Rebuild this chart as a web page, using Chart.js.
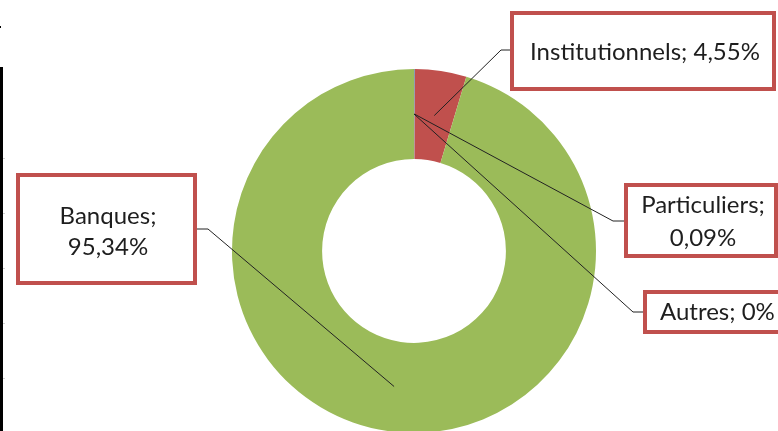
<!DOCTYPE html>
<html>
<head>
<meta charset="utf-8">
<script src="https://cdn.jsdelivr.net/npm/chart.js@4.4.0/dist/chart.umd.min.js"></script>
<style>
  body { margin: 0; background: #fff; }
  #frame { width: 778px; height: 431px; overflow: hidden; position: relative; }
  #box { width: 778px; height: 440px; }
</style>
</head>
<body>
<div id="frame"><div id="box"><canvas id="chart"></canvas></div></div>
<script>
const categories = ['Particuliers', 'Institutionnels', 'Banques', 'Autres'];
const shares = [0.09, 4.55, 95.34, 0];
const sliceColors = ['#8A9DB5', '#C0504D', '#9BBB59', '#8064A2'];

// callout boxes [x, y, w, h], elbow of the leader line, text placement
const callouts = [
  { box: [624, 183, 154, 75], elbow: [613, 221], edge: 624, align: 'center', tx: 703, ty: [213, 246] },
  { box: [510, 11, 266, 80], elbow: [501, 50], edge: 510, align: 'center', tx: 645, ty: [60] },
  { box: [16, 173, 181, 112], elbow: [208, 229], edge: 197, align: 'center', tx: 108, ty: [224, 255] },
  { box: [643, 290, 160, 44], elbow: [633, 312], edge: 643, align: 'left', tx: 660, ty: [320] }
];

function fmt(v) {
  return String(v).replace('.', ',') + '%';
}

const calloutPlugin = {
  id: 'callouts',
  afterDatasetsDraw(chart) {
    const ctx = chart.ctx;
    const arcs = chart.getDatasetMeta(0).data;
    ctx.save();

    // bit of the neighbouring chart's axis left in the screenshot
    ctx.fillStyle = '#000';
    ctx.fillRect(0, 67, 3, 370);
    ctx.fillRect(0, 26, 1, 2);
    ctx.fillStyle = '#d0d0d0';
    [158, 213, 268, 323, 378].forEach(y => ctx.fillRect(3, y, 2, 1));

    ctx.strokeStyle = '#222';
    ctx.lineWidth = 1;
    arcs.forEach((arc, i) => {
      const c = callouts[i];
      const p = arc.getCenterPoint();
      ctx.beginPath();
      ctx.moveTo(p.x, p.y);
      ctx.lineTo(c.elbow[0], c.elbow[1]);
      ctx.lineTo(c.edge, c.elbow[1]);
      ctx.stroke();
    });

    ctx.font = '24px Lato';
    ctx.textBaseline = 'alphabetic';
    arcs.forEach((arc, i) => {
      const c = callouts[i];
      const [x, y, w, h] = c.box;
      ctx.fillStyle = '#fff';
      ctx.fillRect(x, y, w, h);
      ctx.strokeStyle = '#C0504D';
      ctx.lineWidth = 4;
      ctx.strokeRect(x + 2, y + 2, w - 4, h - 4);

      const lines = c.ty.length > 1
        ? [categories[i] + ';', fmt(shares[i])]
        : [categories[i] + '; ' + fmt(shares[i])];
      ctx.fillStyle = '#1e1e1e';
      ctx.textAlign = c.align;
      lines.forEach((t, k) => ctx.fillText(t, c.tx, c.ty[k]));
    });
    ctx.restore();
  }
};

new Chart(document.getElementById('chart'), {
  type: 'doughnut',
  data: {
    labels: categories,
    datasets: [{
      data: shares,
      backgroundColor: sliceColors,
      borderWidth: 0
    }]
  },
  options: {
    responsive: true,
    maintainAspectRatio: false,
    animation: false,
    cutout: '50.5%',
    layout: { padding: { top: 69, bottom: 7, left: 50, right: 0 } },
    plugins: {
      legend: { display: false },
      tooltip: { enabled: false }
    }
  },
  plugins: [calloutPlugin]
});
</script>
</body>
</html>
